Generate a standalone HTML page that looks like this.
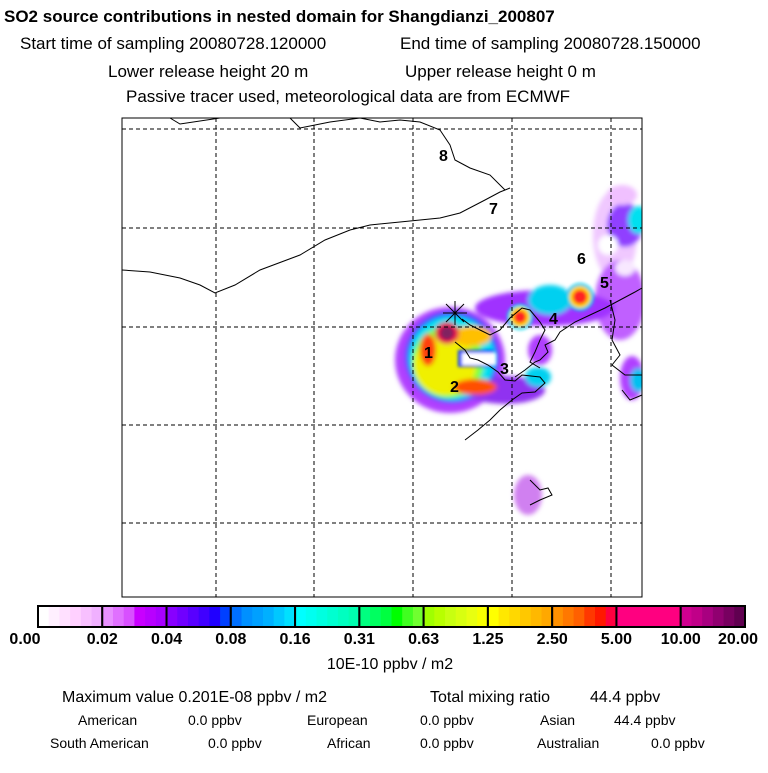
<!DOCTYPE html>
<html><head><meta charset="utf-8"><style>
body{margin:0;background:#fff;width:768px;height:768px;overflow:hidden;font-family:"Liberation Sans",sans-serif}
svg text{font-family:"Liberation Sans",sans-serif}
</style></head><body>
<svg id="s" width="768" height="768" viewBox="0 0 768 768">
<defs>
<filter id="b3" x="-50%" y="-50%" width="200%" height="200%"><feGaussianBlur stdDeviation="2.5"/></filter>
<filter id="b2" x="-50%" y="-50%" width="200%" height="200%"><feGaussianBlur stdDeviation="1.5"/></filter>
<clipPath id="mc"><rect x="122" y="118" width="520" height="479"/></clipPath>
</defs>
<g font-size="17">
<text x="4" y="22" font-weight="bold" font-size="17">SO2 source contributions in nested domain for Shangdianzi_200807</text>
<text x="20" y="49">Start time of sampling 20080728.120000</text>
<text x="400" y="49">End time of sampling 20080728.150000</text>
<text x="108" y="77">Lower release height   20 m</text>
<text x="405" y="77">Upper release height    0 m</text>
<text x="126" y="102">Passive tracer used, meteorological data are from ECMWF</text>
</g>
<g clip-path="url(#mc)">
 <g filter="url(#b3)">
  <ellipse cx="615" cy="235" rx="22" ry="45" fill="#f0c8ff"/>
  <ellipse cx="620" cy="300" rx="25" ry="40" fill="#c060ff"/>
  <ellipse cx="625" cy="225" rx="18" ry="22" fill="#9040ff"/>
  <ellipse cx="608" cy="245" rx="10" ry="10" fill="#fff"/>
  <ellipse cx="625" cy="268" rx="10" ry="8" fill="#f8e8ff"/>
  <ellipse cx="450" cy="360" rx="55" ry="53" fill="#b040ff"/>
  <ellipse cx="545" cy="308" rx="70" ry="18" fill="#a030ff"/>
  <ellipse cx="540" cy="350" rx="12" ry="15" fill="#b040ff"/>
  <ellipse cx="505" cy="390" rx="40" ry="14" fill="#9030f0"/>
  <ellipse cx="632" cy="378" rx="12" ry="22" fill="#b040ff"/>
  <ellipse cx="528" cy="495" rx="14" ry="20" fill="#d080f0"/>
  <ellipse cx="622" cy="195" rx="15" ry="10" fill="#f0c0ff"/>
  <ellipse cx="452" cy="357" rx="47" ry="46" fill="#2050ff"/>
  <ellipse cx="452" cy="358" rx="43" ry="42" fill="#00e0f0"/>
  <ellipse cx="638" cy="220" rx="10" ry="14" fill="#00e0f0"/>
  <ellipse cx="538" cy="377" rx="13" ry="10" fill="#00d0f0"/>
  <ellipse cx="638" cy="380" rx="8" ry="12" fill="#00c0f0"/>
  <ellipse cx="550" cy="300" rx="22" ry="15" fill="#00d0f0"/>
  <ellipse cx="448" cy="362" rx="36" ry="36" fill="#80ff40"/>
  <ellipse cx="445" cy="365" rx="31" ry="30" fill="#f0f000"/>
  <ellipse cx="472" cy="336" rx="20" ry="10" fill="#ffc000"/>
  <ellipse cx="475" cy="387" rx="22" ry="8" fill="#ff5000"/>
  <ellipse cx="428" cy="350" rx="8" ry="16" fill="#ff4010"/>
  <ellipse cx="447" cy="333" rx="12" ry="11" fill="#e01050"/>
 </g>
 <g filter="url(#b2)">
  <rect x="458" y="350" width="36" height="17" fill="#1040ff"/>
  <rect x="462" y="353" width="34" height="12" fill="#fff"/>
  <circle cx="520" cy="317" r="13" fill="#00e0f0"/>
  <circle cx="520" cy="317" r="10" fill="#ffd000"/>
  <circle cx="520" cy="317" r="6" fill="#ff2020"/>
  <circle cx="580" cy="297" r="14" fill="#00d0f0"/>
  <circle cx="580" cy="297" r="11" fill="#ffd000"/>
  <circle cx="580" cy="297" r="7" fill="#ff2020"/>
  <circle cx="447" cy="333" r="6" fill="#802060"/>
 </g>
</g>
<g>
 <rect x="122" y="118" width="520" height="479" fill="none" stroke="#000" stroke-width="1"/>
 <g id="grid" stroke="#000" stroke-width="1" stroke-dasharray="4,3"></g>
 <g fill="none" stroke="#000" stroke-width="1">
  <polyline points="122,270 150,272 180,278 200,285 215,293 235,285 260,270 300,255 325,240 350,230 370,225 400,222 420,220 440,218 460,213 485,200 500,192 510,188"/>
  <polyline points="170,118 180,124 220,118"/>
  <polyline points="290,118 300,128 330,122 360,118 380,122 400,120 420,122 440,130 450,145 455,160 470,168 490,175 505,190"/>
  <polyline points="515,377 525,370 535,362 540,360 548,352 545,345 555,340 560,332 575,322 590,315 605,308 620,300 635,292 642,288"/>
  <polyline points="462,319 470,325 480,330 490,335 500,330 510,318 522,308 530,310 540,322 545,330 540,340 535,352 530,362 540,368"/>
  <polyline points="455,342 465,350 470,358 478,360 488,365 498,372 505,380 515,381 522,375 540,377 545,383 535,392 522,393 512,400 500,410 490,420 478,430 465,440"/>
  <polyline points="610,300 615,320 612,340 620,355 612,365 625,375 642,375"/>
  <polyline points="530,480 540,490 548,488 552,495 540,500 530,505"/>
  <polyline points="622,390 630,400 642,395"/>
 </g>
 <g font-size="16" font-weight="bold">
  <text x="424" y="358">1</text><text x="450" y="392">2</text><text x="500" y="374">3</text>
  <text x="549" y="324">4</text><text x="600" y="288">5</text><text x="577" y="264">6</text>
  <text x="489" y="214">7</text><text x="439" y="161">8</text>
 </g>
 <g stroke="#000" stroke-width="1">
  <line x1="443" y1="313" x2="467" y2="313"/><line x1="455" y1="301" x2="455" y2="325"/>
  <line x1="446" y1="304" x2="464" y2="322"/><line x1="446" y1="322" x2="464" y2="304"/>
 </g>
</g>
<g id="cbar"></g>
<text x="390" y="669" text-anchor="middle" font-size="16">10E-10 ppbv / m2</text>
<g font-size="16">
<text x="62" y="702">Maximum value  0.201E-08 ppbv / m2</text>
<text x="430" y="702">Total mixing ratio</text><text x="590" y="702">44.4 ppbv</text>
</g>
<g font-size="14">
<text x="78" y="725">American</text><text x="188" y="725">0.0 ppbv</text>
<text x="307" y="725">European</text><text x="420" y="725">0.0 ppbv</text>
<text x="540" y="725">Asian</text><text x="614" y="725">44.4 ppbv</text>
<text x="50" y="748">South American</text><text x="208" y="748">0.0 ppbv</text>
<text x="327" y="748">African</text><text x="420" y="748">0.0 ppbv</text>
<text x="537" y="748">Australian</text><text x="651" y="748">0.0 ppbv</text>
</g>
</svg>
<script>
const tickLabels=["0.00","0.02","0.04","0.08","0.16","0.31","0.63","1.25","2.50","5.00","10.00","20.00"];
const segColors=[
["#ffffff","#fff0ff","#ffe0ff","#ffd0ff","#f8c0ff","#f0b0ff"],
["#e890ff","#e070ff","#d850ff","#c800ff","#b800ff","#a800ff"],
["#8800ff","#7000ff","#5800ff","#4000ff","#2000ff","#0040ff"],
["#0070ff","#0090ff","#00a0ff","#00b0ff","#00c8ff","#00e0ff"],
["#00ffff","#00fff0","#00ffe0","#00ffd0","#00ffc0","#00ffb0"],
["#00ff80","#00ff60","#00ff40","#00ff00","#40ff20","#70ff30"],
["#a0ff00","#b8ff00","#c8ff10","#d8ff10","#e8ff10","#f8ff00"],
["#ffff00","#ffe800","#ffd800","#ffc800","#ffb800","#ffa800"],
["#ff9000","#ff7800","#ff6000","#ff3800","#ff1800","#ff0040"],
["#ff0080","#ff0080","#ff0080","#ff0080","#ff0080","#ff0080"],
["#d00090","#c00088","#a80080","#900070","#780060","#600050"]];
const gridX=[216,314,413,512,611];
const gridY=[129,228,327,425,523];
const ns="http://www.w3.org/2000/svg";
const g=document.getElementById('grid');
gridX.forEach(x=>{const l=document.createElementNS(ns,'line');


l.setAttribute('x1',x);l.setAttribute('x2',x);l.setAttribute('y1',118);l.setAttribute('y2',597);g.appendChild(l);});
gridY.forEach(y=>{const l=document.createElementNS(ns,'line');


l.setAttribute('x1',122);l.setAttribute('x2',642);l.setAttribute('y1',y);l.setAttribute('y2',y);g.appendChild(l);});
const cb=document.getElementById('cbar');
const x0=38,x1=745,y0=606,h=21,n=segColors.length,w=(x1-x0)/n;
segColors.forEach((cols,i)=>{cols.forEach((c,j)=>{const r=document.createElementNS(ns,'rect');


r.setAttribute('x',x0+i*w+j*w/cols.length);r.setAttribute('y',y0);r.setAttribute('width',w/cols.length+0.6);r.setAttribute('height',h);r.setAttribute('fill',c);cb.appendChild(r);});
const s=document.createElementNS(ns,'rect');


s.setAttribute('x',x0+i*w);s.setAttribute('y',y0);s.setAttribute('width',w);s.setAttribute('height',h);s.setAttribute('fill','none');s.setAttribute('stroke','#000');s.setAttribute('stroke-width','2');cb.appendChild(s);});
tickLabels.forEach((t,i)=>{const tx=document.createElementNS(ns,'text');


let x=x0+i*w;
if(i==0){x=25;}
if(i==n){x=758;tx.setAttribute('text-anchor','end');}else{tx.setAttribute('text-anchor','middle');}
tx.setAttribute('x',x);tx.setAttribute('y',644);tx.setAttribute('font-size','16');tx.setAttribute('font-weight','bold');tx.textContent=t;cb.appendChild(tx);});
</script>
</body></html>
